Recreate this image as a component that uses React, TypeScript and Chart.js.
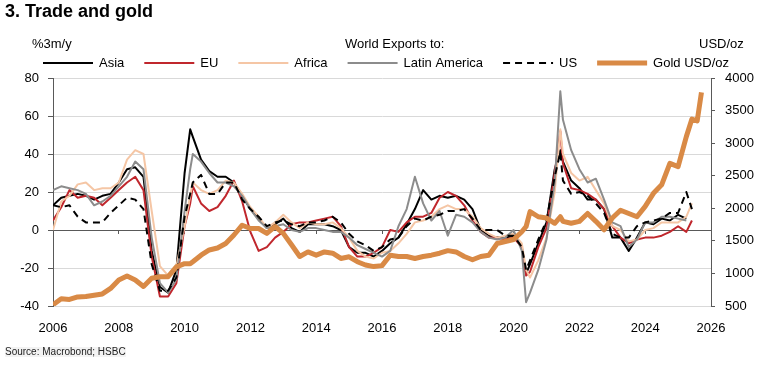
import React, { useEffect, useRef } from "react";
import { Chart, registerables } from "chart.js";

Chart.register(...registerables);

const FONT = "'Liberation Sans', Arial, Helvetica, sans-serif";

// Time positions (decimal years)
const dates = [
  2006, 2006.25, 2006.5, 2006.75,
  2007, 2007.25, 2007.5, 2007.75,
  2008, 2008.25, 2008.5, 2008.75,
  2009, 2009.25, 2009.5, 2009.75,
  2010, 2010.17, 2010.25, 2010.5, 2010.75,
  2011, 2011.25, 2011.5, 2011.75,
  2012, 2012.25, 2012.5, 2012.75,
  2013, 2013.25, 2013.5, 2013.75,
  2014, 2014.25, 2014.5, 2014.75,
  2015, 2015.25, 2015.5, 2015.75,
  2016, 2016.25, 2016.5, 2016.75,
  2017, 2017.25, 2017.5, 2017.75,
  2018, 2018.25, 2018.5, 2018.75,
  2019, 2019.25, 2019.5, 2019.75,
  2020, 2020.25, 2020.38, 2020.5, 2020.75,
  2021, 2021.25, 2021.42, 2021.5, 2021.75,
  2022, 2022.25, 2022.5, 2022.75,
  2023, 2023.25, 2023.5, 2023.75,
  2024, 2024.25, 2024.5, 2024.75,
  2025, 2025.25, 2025.42, 2025.58, 2025.71,
];

const asia = [
  13, 17, 18, 19,
  18, 16, 18, 19,
  25, 32, 33, 28,
  -11, -30, -33, -21,
  30, 53, 49, 37, 31,
  28, 28, 25, 18,
  11, 6, 1, 3,
  6, 1, -1, 3,
  3, 3, 2, 0,
  -9, -12, -12, -14,
  -11, -7, -4, 3,
  11, 21, 16, 18,
  17, 18, 16, 11,
  0, -3, -4, -4,
  -3, -9, -23, -18, -7,
  4, 32, 42, 36, 26,
  22, 16, 16, 11,
  -4, -4, -11, -4,
  4, 3, 6, 5,
  8, 6, null, null, null,
];

const eu = [
  5, 12, 21, 17,
  18, 17, 13, 17,
  21, 25, 28, 21,
  -14, -35, -35, -28,
  2, 14, 23, 14, 10,
  12, 18, 26, 15,
  -1, -11, -9, -4,
  -1, 3, 4, 4,
  5, 6, 7, 2,
  -9, -14, -14, -12,
  -9, 0, -1, 4,
  7, 7, 9, 17,
  20, 18, 13, 5,
  -1, -4, -4, -5,
  -4, -9, -24, -22, -9,
  1, 30, 52, 35, 22,
  21, 19, 16, 11,
  2, -4, -7, -5,
  -4, -4, -3, -1,
  2, -1, 5, null, null,
];

const africa = [
  0, 15, 18, 24,
  25, 21, 22, 22,
  25, 37, 42, 40,
  10, -19, -24, -19,
  2, 18, 25, 21, 19,
  21, 26, 25, 19,
  12, 7, 1, 4,
  8, 4, 1, 4,
  3, 3, 4, 1,
  -4, -11, -14, -15,
  -12, -11, -7, -2,
  4, 5, 7, 11,
  13, 11, 11, 7,
  1, -2, -4, -3,
  -2, -7, -21, -25, -16,
  -4, 20, 53, 40, 30,
  26, 28, 21, 14,
  2, 0, -6, -5,
  0, 1, 4, 4,
  4, 7, 14, null, null,
];

const latam = [
  21, 23, 22, 21,
  19, 13, 15, 18,
  23, 28, 36, 32,
  -4, -28, -33, -26,
  10, 32, 40, 36, 30,
  25, 25, 23, 18,
  11, 5, 1, 2,
  3, 0, -1, 1,
  1, 0, -1, -1,
  -4, -8, -10, -12,
  -14, -11, 2, 11,
  28, 14, 5, 10,
  -3, 8, 7, 4,
  -1, -4, -5, -4,
  0, -11, -38, -33, -21,
  -5, 25, 73, 58, 42,
  32, 25, 27, 16,
  4, 2, -9, -5,
  4, 4, 7, 7,
  6, 5, null, null, null,
];

const us = [
  13, 12, 13, 7,
  4, 4, 4, 9,
  13, 17, 16, 11,
  -18, -32, -32, -25,
  7, 19, 25, 29, 19,
  19, 25, 25, 16,
  11, 7, 2, 4,
  5, 3, 2, 4,
  4, 5, 7, 4,
  -2, -6, -8, -11,
  -9, -5, -4, 2,
  6, 5, 7, 8,
  10, 10, 11, 6,
  0, 0, 0, -3,
  -3, -9, -21, -16, -5,
  5, 28, 41, 26, 19,
  20, 18, 14, 9,
  -2, -4, -4, 2,
  4, 5, 6, 9,
  9, 20, 11, null, null,
];

const gold = [
  520, 610, 600, 640,
  645, 665, 685, 770,
  900, 960, 900, 800,
  925, 950, 950, 1100,
  1150, 1150, 1180, 1280, 1360,
  1390, 1460, 1590, 1740,
  1690, 1690, 1615, 1720,
  1615, 1440, 1260, 1330,
  1280, 1330, 1310, 1230,
  1255, 1180, 1130, 1105,
  1120, 1280, 1260, 1260,
  1230, 1260, 1280, 1310,
  1350, 1330, 1260, 1210,
  1260, 1280, 1460, 1490,
  1520, 1640, 1720, 1950, 1870,
  1850, 1770, 1870, 1800, 1770,
  1800, 1920, 1800, 1670,
  1850, 1970, 1920, 1870,
  2030, 2230, 2360, 2690,
  2640, 3100, 3370, 3340, 3780,
];

const seriesNames = ["Asia", "EU", "Africa", "Latin America", "US", "Gold USD/oz"];

const toPoints = (vals: (number | null)[]) => dates.map((d, i) => ({ x: d, y: vals[i] }));

const legendPlugin = {
  id: "customLegend",
  afterDraw(chart: any) {
    const ctx = chart.ctx;
    ctx.save();
    ctx.font = `13px ${FONT}`;
    ctx.textBaseline = "middle";
    let x = 43;
    const y = 63;
    chart.data.datasets.forEach((ds: any) => {
      ctx.beginPath();
      ctx.setLineDash(ds.borderDash || []);
      ctx.strokeStyle = ds.borderColor;
      ctx.lineWidth = ds.borderWidth;
      ctx.lineCap = "butt";
      ctx.moveTo(x, y);
      ctx.lineTo(x + 50, y);
      ctx.stroke();
      ctx.setLineDash([]);
      x += 56;
      ctx.fillStyle = "#000";
      ctx.fillText(ds.label, x, y);
      x += ctx.measureText(ds.label).width + 20;
    });
    ctx.restore();
  },
};

export default function App() {
  const canvasRef = useRef<HTMLCanvasElement | null>(null);

  useEffect(() => {
    if (!canvasRef.current) return;
    Chart.defaults.font.family = FONT;
    Chart.defaults.font.size = 13;
    Chart.defaults.color = "#000";

    const axisDark = "#595959";
    const chart = new Chart(canvasRef.current, {
      type: "line",
      data: {
        datasets: [
          { label: seriesNames[0], data: toPoints(asia), borderColor: "#000000", borderWidth: 2, order: 6 },
          { label: seriesNames[1], data: toPoints(eu), borderColor: "#c0272d", borderWidth: 2, order: 5 },
          { label: seriesNames[2], data: toPoints(africa), borderColor: "#f5c6a5", borderWidth: 2, order: 4 },
          { label: seriesNames[3], data: toPoints(latam), borderColor: "#8c8c8c", borderWidth: 2, order: 3 },
          { label: seriesNames[4], data: toPoints(us), borderColor: "#000000", borderWidth: 2, borderDash: [7, 5], order: 2 },
          { label: seriesNames[5], data: toPoints(gold), borderColor: "#d98a46", borderWidth: 5, yAxisID: "y1", order: 1 },
        ] as any,
      },
      options: {
        responsive: false,
        devicePixelRatio: 1,
        animation: false,
        elements: {
          point: { radius: 0 },
          line: { tension: 0, borderJoinStyle: "round", fill: false },
        },
        layout: { padding: { top: 78, left: 0, right: 0, bottom: 0 } },
        plugins: { legend: { display: false }, tooltip: { enabled: false } },
        scales: {
          x: {
            type: "linear",
            min: 2006,
            max: 2026,
            position: "bottom",
            afterFit: (s: any) => { s.height = 76; },
            ticks: { stepSize: 2, padding: 7, maxRotation: 0, callback: (v: any) => String(v) },
            grid: { display: false },
            border: { display: false },
          },
          x2: {
            type: "linear",
            min: 2006,
            max: 2026,
            position: { y: 0 } as any,
            ticks: { stepSize: 2, display: false },
            grid: { drawOnChartArea: false, drawTicks: true, tickLength: 4, tickColor: axisDark },
            border: { display: false },
          },
          y: {
            type: "linear",
            position: "left",
            min: -40,
            max: 80,
            afterFit: (s: any) => { s.width = 53; },
            ticks: { stepSize: 20, padding: 9, callback: (v: any) => String(v) },
            grid: {
              color: (c: any) => (c.tick && c.tick.value === 0 ? axisDark : "#d9d9d9"),
              tickColor: axisDark,
              tickLength: 5,
            },
            border: { color: axisDark, width: 1 },
          },
          y1: {
            type: "linear",
            position: "right",
            min: 500,
            max: 4000,
            afterFit: (s: any) => { s.width = 65; },
            ticks: { stepSize: 500, padding: 10, callback: (v: any) => String(v) },
            grid: { drawOnChartArea: false, tickColor: axisDark, tickLength: 4 },
            border: { color: axisDark, width: 1 },
          },
        },
      } as any,
      plugins: [legendPlugin],
    });
    return () => chart.destroy();
  }, []);

  const label: React.CSSProperties = {
    position: "absolute",
    fontFamily: FONT,
    fontSize: 13,
    lineHeight: "13px",
    color: "#000",
    whiteSpace: "nowrap",
  };

  return (
    <div style={{ position: "fixed", left: 0, top: 0, width: 776, height: 382, background: "#fff", overflow: "hidden" }}>
      <canvas ref={canvasRef} width={776} height={382} style={{ position: "absolute", left: 0, top: 0, width: 776, height: 382 }} />
      <div style={{ ...label, left: 5, top: 2, fontSize: 18, lineHeight: "18px", fontWeight: "bold" }}>3. Trade and gold</div>
      <div style={{ ...label, left: 32, top: 37 }}>%3m/y</div>
      <div style={{ ...label, left: 345, top: 37 }}>World Exports to:</div>
      <div style={{ ...label, left: 699, top: 37 }}>USD/oz</div>
      <div style={{ ...label, left: 5, top: 347, fontSize: 10, lineHeight: "10px", color: "#222", background: "#f3f3f3" }}>Source: Macrobond; HSBC</div>
    </div>
  );
}
